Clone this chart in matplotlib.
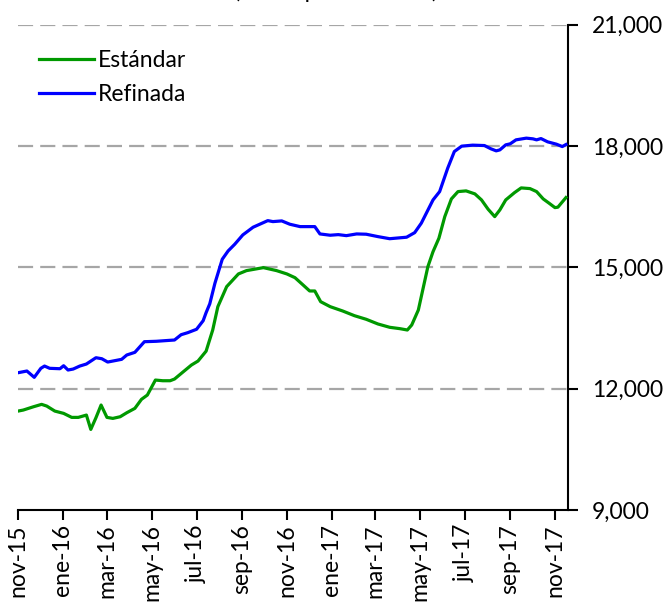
import matplotlib
matplotlib.use("Agg")
import matplotlib.pyplot as plt
import matplotlib.ticker as mticker
import pandas as pd

# Precios del azúcar (pesos por tonelada)
fechas_est = ["2015-11-01", "2015-11-08", "2015-11-22", "2015-12-03", "2015-12-10",
              "2015-12-21", "2016-01-02", "2016-01-13", "2016-01-22", "2016-02-02",
              "2016-02-08", "2016-02-15", "2016-02-22", "2016-03-01", "2016-03-09",
              "2016-03-19", "2016-03-28", "2016-04-08", "2016-04-17", "2016-04-25",
              "2016-05-06", "2016-05-16", "2016-05-26", "2016-06-01", "2016-06-13",
              "2016-06-24", "2016-07-03", "2016-07-14", "2016-07-23", "2016-07-30",
              "2016-08-11", "2016-08-27", "2016-09-07", "2016-09-30", "2016-10-18",
              "2016-11-01", "2016-11-12", "2016-11-23", "2016-12-02", "2016-12-09",
              "2016-12-17", "2016-12-30", "2017-01-16", "2017-02-01", "2017-02-17",
              "2017-03-05", "2017-03-21", "2017-04-04", "2017-04-14", "2017-04-20",
              "2017-04-29", "2017-05-05", "2017-05-12", "2017-05-19", "2017-05-27",
              "2017-06-04", "2017-06-13", "2017-06-22", "2017-07-03", "2017-07-15",
              "2017-07-24", "2017-08-02", "2017-08-11", "2017-08-18", "2017-08-26",
              "2017-09-07", "2017-09-16", "2017-09-28", "2017-10-07", "2017-10-16",
              "2017-10-24", "2017-11-01", "2017-11-05", "2017-11-16"]
estandar = [11449, 11474, 11556, 11615, 11573, 11449, 11392, 11293, 11293, 11350,
            10996, 11284, 11598, 11293, 11268, 11309, 11408, 11516, 11739, 11845,
            12216, 12199, 12199, 12241, 12422, 12587, 12686, 12930, 13453, 14030,
            14525, 14839, 14921, 14995, 14921, 14839, 14747, 14567, 14418, 14418,
            14153, 14030, 13923, 13807, 13718, 13602, 13520, 13486, 13453, 13577,
            13948, 14443, 15020, 15390, 15722, 16256, 16694, 16875, 16892, 16818,
            16669, 16439, 16256, 16422, 16669, 16850, 16966, 16949, 16875, 16694,
            16588, 16479, 16489, 16727]

fechas_ref = ["2015-11-01", "2015-11-13", "2015-11-23", "2015-12-02", "2015-12-07",
              "2015-12-14", "2015-12-28", "2016-01-02", "2016-01-08", "2016-01-15",
              "2016-01-24", "2016-02-02", "2016-02-15", "2016-02-23", "2016-03-02",
              "2016-03-21", "2016-03-28", "2016-04-08", "2016-04-21", "2016-05-07",
              "2016-06-01", "2016-06-10", "2016-06-19", "2016-07-01", "2016-07-10",
              "2016-07-14", "2016-07-19", "2016-07-26", "2016-08-05", "2016-08-13",
              "2016-08-22", "2016-09-02", "2016-09-16", "2016-10-06", "2016-10-13",
              "2016-10-25", "2016-11-05", "2016-11-19", "2016-12-09", "2016-12-16",
              "2016-12-30", "2017-01-10", "2017-01-21", "2017-02-04", "2017-02-17",
              "2017-03-05", "2017-03-21", "2017-04-13", "2017-04-24", "2017-05-03",
              "2017-05-19", "2017-05-28", "2017-06-08", "2017-06-17", "2017-06-27",
              "2017-07-12", "2017-07-28", "2017-08-06", "2017-08-13", "2017-08-18",
              "2017-08-26", "2017-09-01", "2017-09-09", "2017-09-23", "2017-10-02",
              "2017-10-07", "2017-10-13", "2017-10-22", "2017-11-03", "2017-11-11",
              "2017-11-16"]
refinada = [12397, 12439, 12283, 12506, 12562, 12506, 12496, 12570, 12464, 12488,
            12562, 12612, 12768, 12743, 12661, 12728, 12835, 12901, 13164, 13174,
            13206, 13337, 13387, 13471, 13683, 13882, 14100, 14608, 15202, 15408,
            15573, 15804, 15994, 16157, 16133, 16150, 16068, 16009, 16009, 15828,
            15796, 15811, 15786, 15828, 15821, 15762, 15710, 15747, 15860, 16093,
            16669, 16875, 17454, 17865, 17998, 18023, 18013, 17931, 17882, 17906,
            18030, 18055, 18154, 18196, 18179, 18154, 18186, 18105, 18047, 17988,
            18038]

ticks_x = ["2015-11-01", "2016-01-01", "2016-03-01", "2016-05-01", "2016-07-01",
           "2016-09-01", "2016-11-01", "2017-01-01", "2017-03-01", "2017-05-01",
           "2017-07-01", "2017-09-01", "2017-11-01"]
etiquetas_x = ["nov-15", "ene-16", "mar-16", "may-16", "jul-16", "sep-16", "nov-16",
               "ene-17", "mar-17", "may-17", "jul-17", "sep-17", "nov-17"]
ticks_y = [9000, 12000, 15000, 18000, 21000]

plt.rcParams['font.family'] = ['Lato', 'DejaVu Sans']

fig = plt.figure(figsize=(6.7, 6.03), dpi=100)
ax = fig.add_axes([0.027, 0.154, 0.821, 0.805])

# rejilla punteada
for v in ticks_y[1:]:
    ax.axhline(v, color='#A6A6A6', lw=1.6, dashes=(6.8, 3.2), zorder=1)

ax.plot(pd.to_datetime(fechas_est), estandar, color='#009900', lw=2.3,
        label='Estándar', zorder=3)
ax.plot(pd.to_datetime(fechas_ref), refinada, color='#0000FF', lw=2.3,
        label='Refinada', zorder=3)

ax.set_xlim(pd.Timestamp("2015-11-01"), pd.Timestamp("2017-11-19"))
ax.set_ylim(9000, 21000)

ax.set_xticks(pd.to_datetime(ticks_x))
ax.set_xticklabels(etiquetas_x, rotation=90, fontsize=16.5)
ax.set_yticks(ticks_y)
ax.yaxis.set_major_formatter(mticker.FuncFormatter(lambda v, p: f"{int(v):,}"))
ax.yaxis.tick_right()
ax.tick_params(axis='y', labelsize=16.5, length=7, width=1.5, direction='out', pad=10)
ax.tick_params(axis='x', length=7, width=1.5, direction='out', pad=3)

for s in ['top', 'left']:
    ax.spines[s].set_visible(False)
for s in ['bottom', 'right']:
    ax.spines[s].set_linewidth(1.5)

ax.legend(loc='upper left', bbox_to_anchor=(0.0, 0.99), frameon=False,
          fontsize=16.5, handlelength=2.4, handletextpad=0.2, labelspacing=0.55)

fig.text(0.502, 1 + 1.5 / 603, "(Pesos por tonelada)", ha='center', va='baseline',
         fontsize=16.5)

fig.savefig("out.png", dpi=100)
